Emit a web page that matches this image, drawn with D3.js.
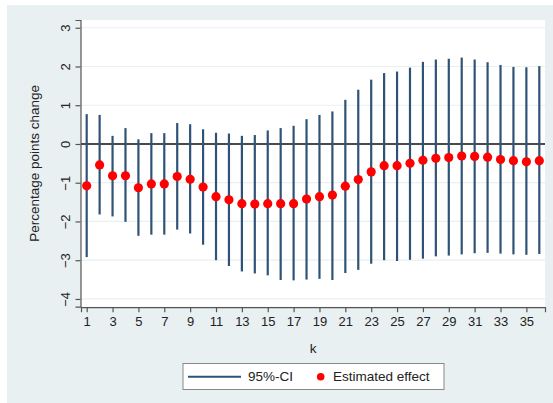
<!DOCTYPE html>
<html>
<head>
<meta charset="utf-8">
<script src="https://cdn.jsdelivr.net/npm/d3@7"></script>
<style>
  html, body { margin: 0; padding: 0; background: #fff; }
  svg { display: block; font-family: "Liberation Sans", Arial, sans-serif; }
</style>
</head>
<body>
<div id="chart"></div>
<script>
// horizon k
const kValues = [1,2,3,4,5,6,7,8,9,10,11,12,13,14,15,16,17,18,19,20,21,22,23,24,25,26,27,28,29,30,31,32,33,34,35,36];
// point estimate
const estimate = [-1.08,-0.54,-0.82,-0.82,-1.13,-1.03,-1.03,-0.84,-0.91,-1.11,-1.36,-1.44,-1.54,-1.55,-1.54,-1.54,-1.54,-1.42,-1.36,-1.32,
                  -1.09,-0.92,-0.72,-0.56,-0.56,-0.50,-0.42,-0.37,-0.35,-0.31,-0.32,-0.34,-0.40,-0.43,-0.46,-0.43];
// 95% confidence bounds
const ciLower = [-2.92,-1.82,-1.87,-2.01,-2.37,-2.34,-2.34,-2.21,-2.31,-2.60,-3.00,-3.15,-3.29,-3.34,-3.39,-3.51,-3.52,-3.50,-3.48,-3.51,
                 -3.33,-3.25,-3.09,-3.00,-3.02,-2.99,-2.96,-2.90,-2.88,-2.85,-2.82,-2.81,-2.83,-2.85,-2.86,-2.84];
const ciUpper = [0.77,0.75,0.21,0.41,0.12,0.28,0.28,0.54,0.51,0.38,0.29,0.27,0.21,0.23,0.35,0.41,0.47,0.64,0.75,0.84,
                 1.14,1.40,1.66,1.83,1.87,1.97,2.12,2.18,2.20,2.23,2.18,2.11,2.04,1.99,1.98,2.01];
const yTicks = [-4,-3,-2,-1,0,1,2,3];
const xTicks = [1,3,5,7,9,11,13,15,17,19,21,23,25,27,29,31,33,35];

const width = 553, height = 403;
const plot = {left: 81, right: 545, top: 20, bottom: 306.7};
const ciColor = "#2f5376";
const dotColor = "#ff0000";

const svg = d3.select("#chart").append("svg")
    .attr("width", width)
    .attr("height", height);

// fond de la zone graphique
svg.append("rect").attr("x", 7).attr("y", 5)
    .attr("width", width - 7).attr("height", height - 5)
    .attr("fill", "#e9f0f2");
// zone du tracé
svg.append("rect").attr("x", plot.left).attr("y", plot.top)
    .attr("width", plot.right - plot.left).attr("height", plot.bottom - plot.top)
    .attr("fill", "#fff");

const x = d3.scaleLinear().domain([0.56, 36.44]).range([plot.left, plot.right]);
const y = d3.scaleLinear().domain([-4.2, 3.2]).range([plot.bottom, plot.top]);

// grille horizontale
svg.append("g").selectAll("line")
    .data(yTicks)
    .enter().append("line")
    .attr("x1", plot.left).attr("x2", plot.right)
    .attr("y1", d => y(d)).attr("y2", d => y(d))
    .attr("stroke", "#e9f0f2").attr("stroke-width", 1.2);

// ligne zéro
svg.append("line")
    .attr("x1", plot.left).attr("x2", plot.right)
    .attr("y1", y(0)).attr("y2", y(0))
    .attr("stroke", "#111").attr("stroke-width", 1.3);

// intervalles de confiance
svg.append("g").selectAll("line")
    .data(kValues)
    .enter().append("line")
    .attr("x1", d => x(d)).attr("x2", d => x(d))
    .attr("y1", (d, i) => y(ciLower[i])).attr("y2", (d, i) => y(ciUpper[i]))
    .attr("stroke", ciColor).attr("stroke-width", 2.2);

// effets estimés
svg.append("g").selectAll("circle")
    .data(kValues)
    .enter().append("circle")
    .attr("cx", d => x(d))
    .attr("cy", (d, i) => y(estimate[i]))
    .attr("r", 4.6)
    .attr("fill", dotColor);

// axes
const yAxis = svg.append("g")
    .attr("transform", `translate(${plot.left - 0.5},0)`)
    .call(d3.axisLeft(y).tickValues(yTicks).tickSize(5));
// étiquettes verticales comme dans Stata
yAxis.selectAll(".tick text")
    .attr("x", null).attr("dy", null)
    .attr("transform", "translate(-15,0) rotate(-90)")
    .attr("text-anchor", "middle")
    .attr("dominant-baseline", "central");

svg.append("g")
    .attr("transform", `translate(0,${plot.bottom + 0.5})`)
    .call(d3.axisBottom(x).tickValues(xTicks).tickSize(5).tickPadding(5).tickFormat(d3.format("d")));

svg.selectAll(".domain").attr("stroke", "#555").attr("stroke-width", 1.2);
svg.selectAll(".tick line").attr("stroke", "#555").attr("stroke-width", 1.2);
svg.selectAll(".tick text").attr("fill", "#222").style("font-size", "13px")
    .style("font-family", "'Liberation Sans', Arial, sans-serif");

// titres des axes
svg.append("text")
    .attr("transform", `translate(34,${(plot.top + plot.bottom) / 2}) rotate(-90)`)
    .attr("text-anchor", "middle")
    .attr("dominant-baseline", "central")
    .style("font-size", "13.5px").attr("fill", "#222")
    .text("Percentage points change");
svg.append("text")
    .attr("x", (plot.left + plot.right) / 2).attr("y", 348)
    .attr("text-anchor", "middle")
    .attr("dominant-baseline", "central")
    .style("font-size", "13.5px").attr("fill", "#222")
    .text("k");

// légende
const legend = svg.append("g");
legend.append("rect")
    .attr("x", 183).attr("y", 363.5).attr("width", 261).attr("height", 26)
    .attr("fill", "#fff").attr("stroke", "#888").attr("stroke-width", 1);
legend.append("line")
    .attr("x1", 188).attr("x2", 241).attr("y1", 376.7).attr("y2", 376.7)
    .attr("stroke", ciColor).attr("stroke-width", 2);
legend.append("text")
    .attr("x", 248).attr("y", 376.7).attr("dominant-baseline", "central")
    .style("font-size", "13.5px").attr("fill", "#222")
    .text("95%-CI");
legend.append("circle")
    .attr("cx", 320.7).attr("cy", 376.7).attr("r", 3.8).attr("fill", dotColor);
legend.append("text")
    .attr("x", 333).attr("y", 376.7).attr("dominant-baseline", "central")
    .style("font-size", "13.5px").attr("fill", "#222")
    .text("Estimated effect");
</script>
</body>
</html>
